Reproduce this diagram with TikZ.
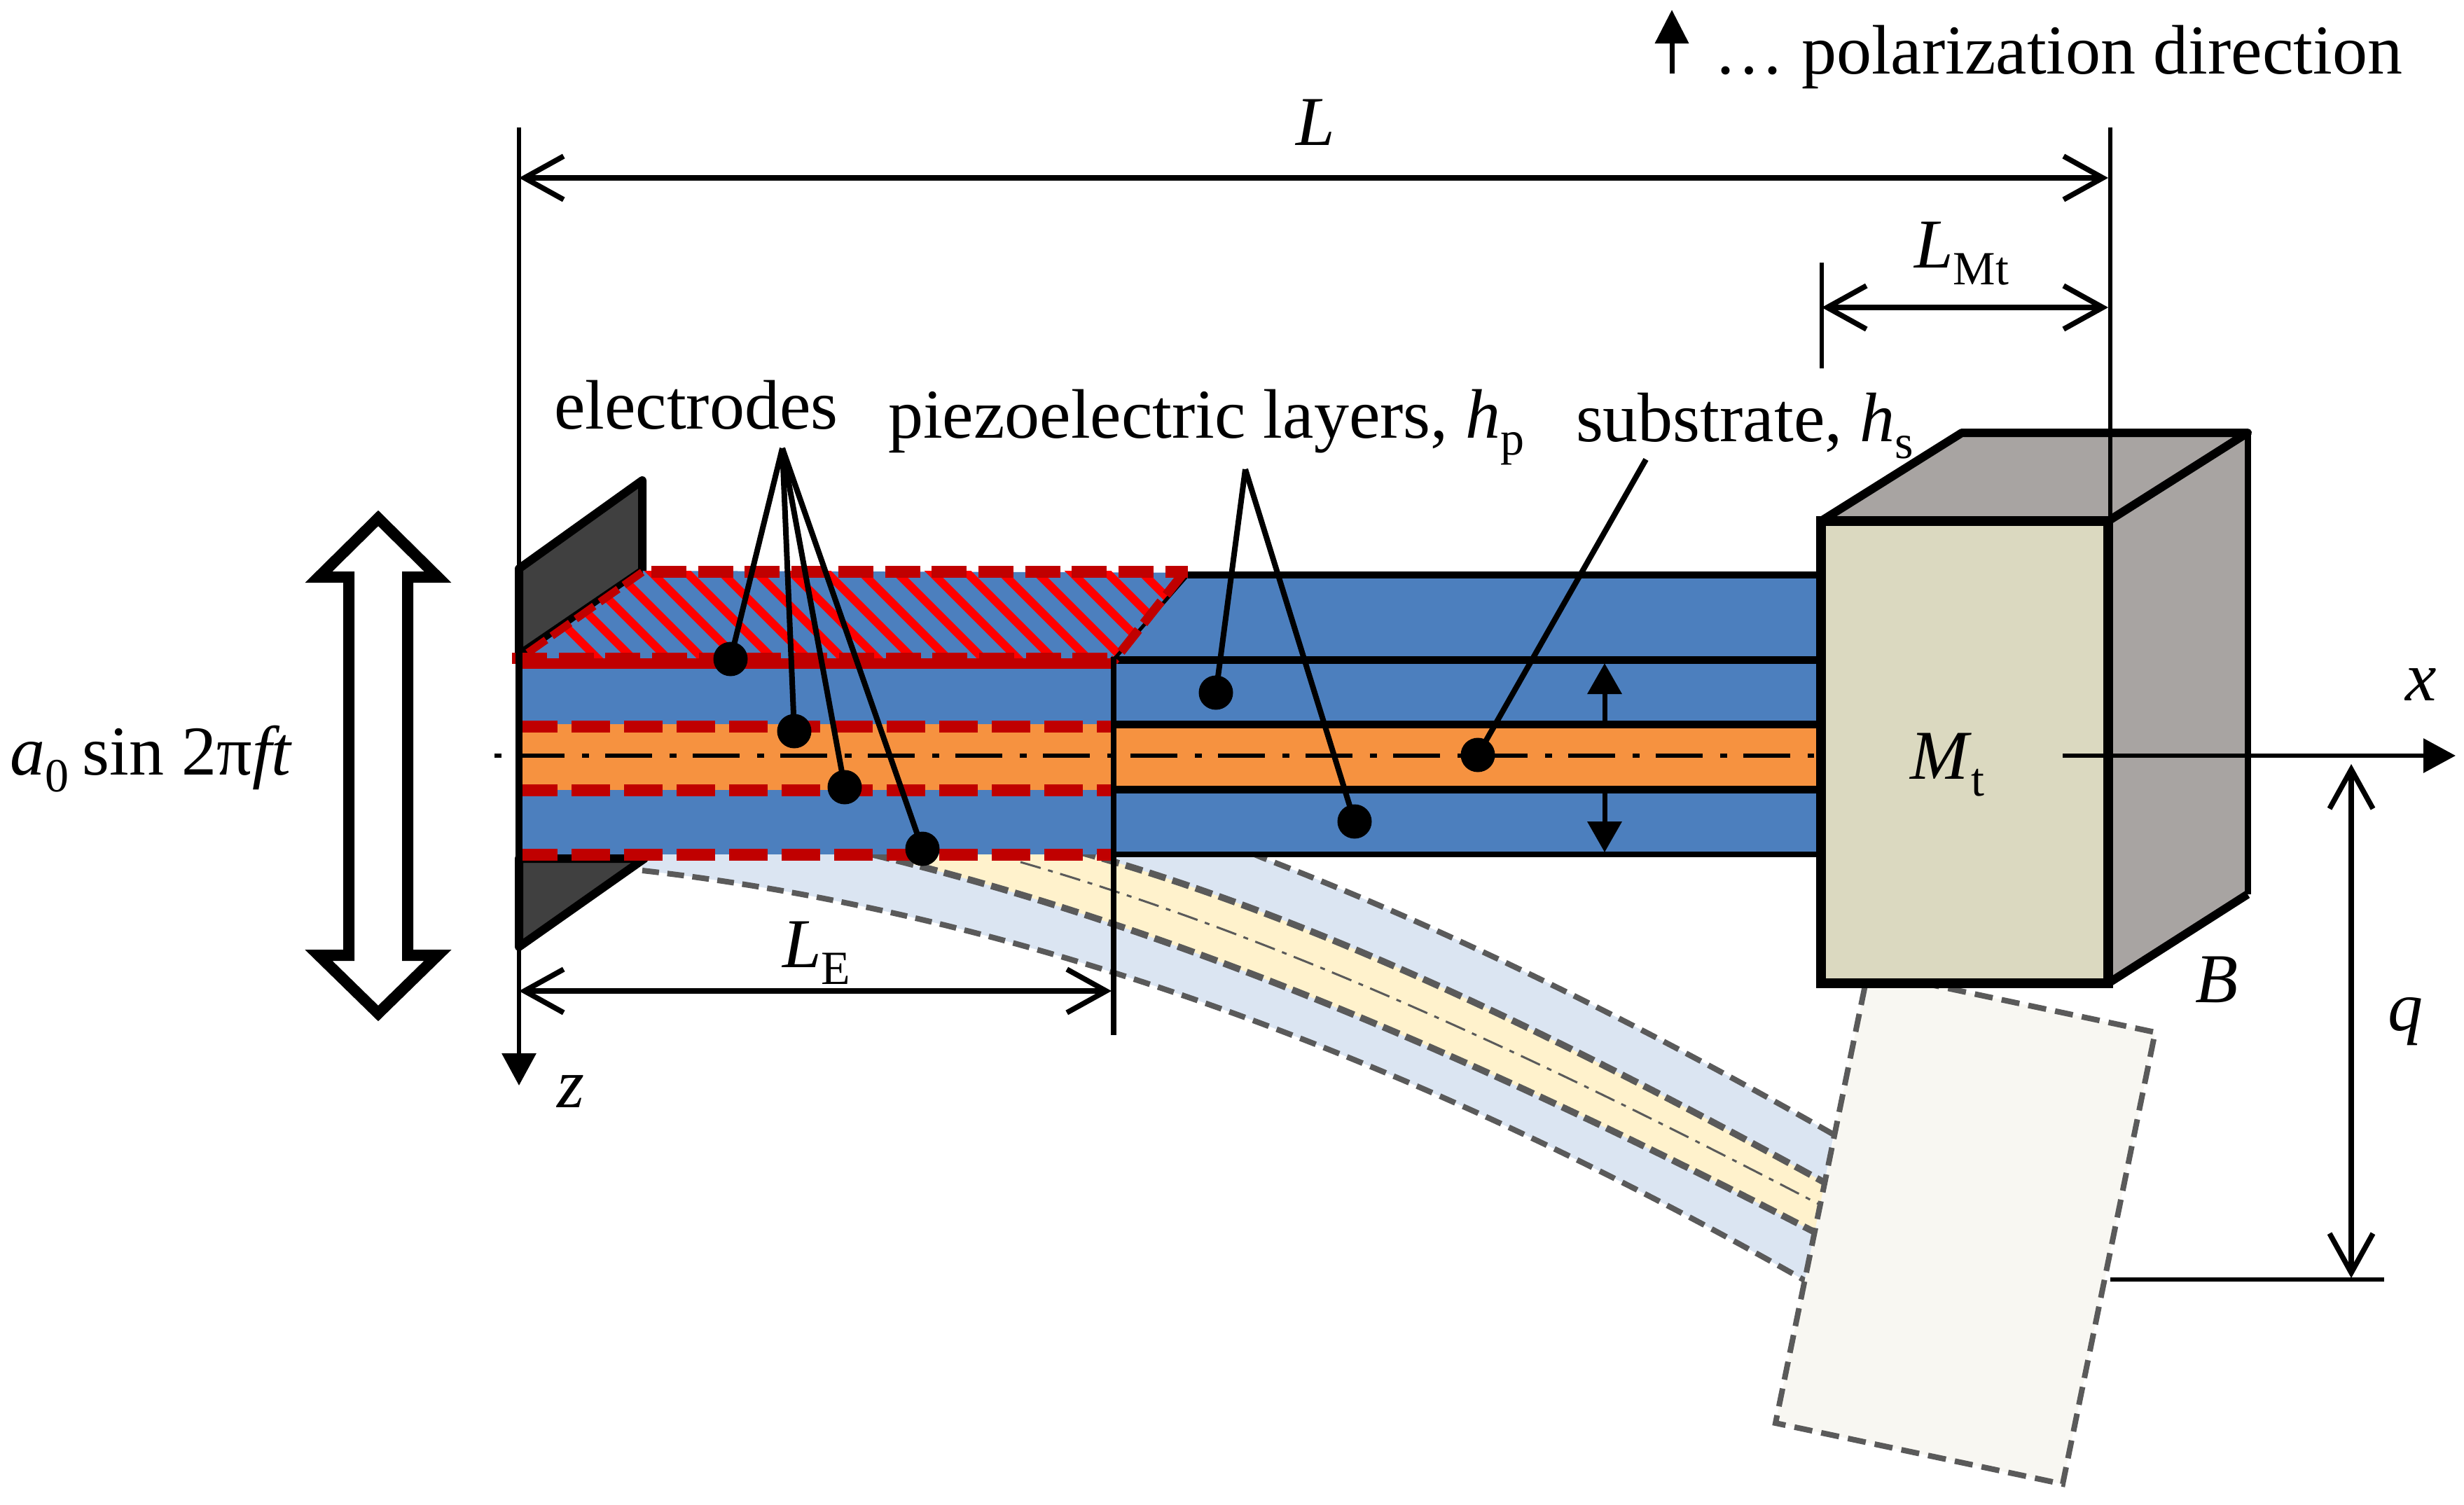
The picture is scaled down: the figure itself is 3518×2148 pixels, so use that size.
\documentclass[tikz,border=0pt]{standalone}
\usepackage{fontspec}
\setmainfont{Liberation Serif}
\usetikzlibrary{arrows.meta}
\definecolor{pblue}{HTML}{4C7FBE}
\definecolor{porange}{HTML}{F69240}
\definecolor{elred}{HTML}{C00000}
\definecolor{ghblue}{HTML}{DBE5F2}
\definecolor{ghyel}{HTML}{FFF2CC}
\definecolor{ghgrey}{HTML}{5A5A5A}
\definecolor{ghmass}{HTML}{F8F7F2}
\definecolor{massf}{HTML}{DBD9C0}
\definecolor{masss}{HTML}{A8A4A2}
\definecolor{clampc}{HTML}{404040}
\newcommand{\lowr}[1]{\raisebox{-0.24em}{\fontsize{68}{72}\selectfont #1}}
\tikzset{
  x=1pt,y=-1pt,
  txt/.style={inner sep=0pt,outer sep=0pt,anchor=base west,font=\fontsize{100}{110}\selectfont},
  dot/.style={circle,fill=black,draw=none,inner sep=0pt,minimum size=49pt},
  lead/.style={draw=black,line width=8pt},
  dim/.style={draw=black,line width=7.5pt,{Straight Barb[length=56pt,width=62pt,line width=7.5pt]}-{Straight Barb[length=56pt,width=62pt,line width=7.5pt]}},
  ext/.style={draw=black,line width=6.5pt},
  axis/.style={draw=black,line width=6.5pt,-{Triangle[length=46pt,width=48pt]}},
  polar/.style={draw=black,line width=7pt,-{Triangle[length=44pt,width=48pt]}},
  ghost/.style={draw=ghgrey,line width=8pt,dash pattern=on 24pt off 12pt},
  ghostin/.style={draw=ghgrey,line width=9.5pt,dash pattern=on 25pt off 10pt},
  eldash/.style={draw=elred,line width=17pt,dash pattern=on 55pt off 20pt},
  eltop/.style={draw=elred,line width=17pt,dash pattern=on 50pt off 16.7pt},
  hline/.style={draw=black,line width=11pt},
}
\begin{document}
\begin{tikzpicture}
\useasboundingbox (0,0) rectangle (3518,2148);
\fill[white] (0,0) rectangle (3518,2148);

% ghost beam
\fill[ghblue] (917,1200) -- (1720,1190) -- (1803,1225) .. controls (2073,1329) and (2348,1466) .. (2618,1620)
  -- (2578,1829) .. controls (2028,1516) and (1467,1305) .. (917,1243) -- cycle;
\fill[ghyel] (1246,1200) -- (1440,1200) -- (1540,1216) .. controls (1895,1315) and (2251,1494) .. (2606,1689)
  -- (2592,1760) .. controls (2143,1527) and (1695,1328) .. (1246,1220) -- cycle;
\draw[ghost] (1720,1190) -- (1803,1225) .. controls (2073,1329) and (2348,1466) .. (2618,1620);
\draw[ghostin] (1540,1216) .. controls (1895,1315) and (2251,1494) .. (2606,1689);
\draw[ghostin] (1246,1220) .. controls (1695,1328) and (2143,1527) .. (2592,1760);
\draw[ghost] (917,1243) .. controls (1467,1305) and (2028,1516) .. (2578,1829);
\draw[draw=ghgrey,line width=3pt,dash pattern=on 30pt off 11pt on 7pt off 11pt] (1457,1231) .. controls (1837,1340) and (2218,1522) .. (2598,1720);
% ghost mass
\filldraw[fill=ghmass,draw=ghgrey,line width=8pt,dash pattern=on 26pt off 13pt] (2667,1387) -- (3077,1474) -- (2945,2119) -- (2535,2032) -- cycle;

% clamp
\filldraw[fill=clampc,draw=black,line width=12pt,line join=round] (741,812) -- (917,686) -- (917,815) -- (741,935) -- cycle;
\filldraw[fill=clampc,draw=black,line width=12pt,line join=round] (741,1226) -- (920,1226) -- (741,1352) -- cycle;

% beam
\fill[pblue] (741,939) -- (917,815) -- (2600,821) -- (2600,942) -- cycle;
\fill[pblue] (741,939) rectangle (2600,1220);
\fill[porange] (741,1034) rectangle (2600,1128);

% hatching
\begin{scope}
\clip (741,945) -- (917,815) -- (1696,815) -- (1590,945) -- cycle;
\foreach \s in {-2,-1,...,17}{
  \draw[red,line width=12pt] ({913+50*\s-100},800) -- ({913+50*\s+60},960);
}
\end{scope}

% black lines of the right part
\draw[hline,line width=10pt] (1696,821) -- (2600,821);
\draw[hline] (1590,942) -- (2600,942);
\draw[hline,line width=11pt] (1590,1034) -- (2600,1034);
\draw[hline,line width=11pt] (1590,1127) -- (2600,1127);
\draw[hline,line width=8.5pt] (1590,1220) -- (2600,1220);
\draw[draw=black,line width=5pt] (1696,821) -- (1590,942);
\draw[draw=black,line width=5pt] (741,939) -- (917,815);

% electrodes
\draw[eltop] (930,816) -- (1696,816);
\draw[draw=elred,line width=15pt] (741,947) -- (1590,947);
\draw[eltop,line width=16pt] (731,940) -- (1590,940);
\draw[draw=elred,line width=13pt,dash pattern=on 40pt off 12pt] (1690,818) -- (1590,944);
\draw[draw=elred,line width=11pt,dash pattern=on 32pt off 10pt] (917,817) -- (741,941);
\draw[eldash] (741,1037) -- (1586,1037);
\draw[eldash] (741,1128) -- (1586,1128);
\draw[eldash] (741,1220) -- (1586,1220);

% centre line
\draw[draw=black,line width=6.5pt,dash pattern=on 10pt off 23pt on 67pt off 25pt] (706,1079) -- (2590,1079);

% left edge, z axis and the vertical at L_E
\draw[draw=black,line width=10pt] (741,930) -- (741,1230);
\draw[ext,line width=7.5pt] (1590,938) -- (1590,1478);
\coordinate (zTop) at (741,182);
\coordinate (zEnd) at (741,1550);
\draw[axis] (zTop) -- (zEnd);

% polarization arrows
\coordinate (pu0) at (2291,1034); \coordinate (pu1) at (2291,947);
\coordinate (pd0) at (2291,1127); \coordinate (pd1) at (2291,1217);
\draw[polar] (pu0) -- (pu1);
\draw[polar] (pd0) -- (pd1);

% mass
\filldraw[fill=masss,draw=black,line width=12pt,line join=round] (2600,744) -- (2801,618) -- (3209,618) -- (3013,744) -- cycle;
\fill[masss] (3010,744) -- (3209,618) -- (3209,1277) -- (3010,1404) -- cycle;
\draw[draw=black,line width=9pt] (3209,618) -- (3209,1277);
\draw[draw=black,line width=12pt] (3209,1277) -- (3010,1404);
\draw[draw=black,line width=12pt] (3209,618) -- (3010,744);
\filldraw[fill=massf,draw=black,line width=14.5pt,line join=miter] (2600,744) rectangle (3010,1404);

% extension lines and dimensions
\coordinate (eR0) at (3013,182); \coordinate (eR1) at (3013,740);
\draw[ext] (eR0) -- (eR1);
\coordinate (eM0) at (2601,375); \coordinate (eM1) at (2601,526);
\draw[ext] (eM0) -- (eM1);
\coordinate (dL0) at (741,254); \coordinate (dL1) at (3010,254);
\draw[dim] (dL0) -- (dL1);
\coordinate (dM0) at (2601,439); \coordinate (dM1) at (3010,439);
\draw[dim] (dM0) -- (dM1);
\coordinate (dE0) at (741,1415); \coordinate (dE1) at (1587,1415);
\draw[dim] (dE0) -- (dE1);
\coordinate (dQ0) at (3357,1091); \coordinate (dQ1) at (3357,1825);
\draw[dim] (dQ0) -- (dQ1);
\coordinate (eQ0) at (3013,1827); \coordinate (eQ1) at (3404,1827);
\draw[ext] (eQ0) -- (eQ1);
\coordinate (xA0) at (2945,1079); \coordinate (xA1) at (3506,1079);
\draw[axis] (xA0) -- (xA1);

% dots and leaders
\node[dot] (d1) at (1043,941) {};
\node[dot] (d2) at (1134,1044) {};
\node[dot] (d3) at (1206,1124) {};
\node[dot] (d4) at (1317,1212) {};
\node[dot] (d5) at (1736,989) {};
\node[dot] (d6) at (1934,1173) {};
\node[dot] (d7) at (2110,1078) {};
\coordinate (fanE) at (1117,640);
\coordinate (fanP) at (1778,670);
\coordinate (fanS) at (2350,656);
\draw[lead] (fanE) -- (d1.center);
\draw[lead] (fanE) -- (d2.center);
\draw[lead] (fanE) -- (d3.center);
\draw[lead] (fanE) -- (d4.center);
\draw[lead] (fanP) -- (d5.center);
\draw[lead] (fanP) -- (d6.center);
\draw[lead] (fanS) -- (d7.center);

% base excitation double arrow
\draw[draw=black,line width=16pt,line join=miter,miter limit=10,fill=white]
  (498,824) -- (455,824) -- (540,740) -- (625,824) -- (582,824) -- (582,1364) -- (625,1364) -- (540,1447) -- (455,1364) -- (498,1364) -- cycle;

% polarization legend
\coordinate (legA) at (2387,105); \coordinate (legB) at (2387,14);
\draw[draw=black,line width=7pt,-{Triangle[length=48pt,width=47pt]}] (legA) -- (legB);

% texts
\node[txt] (tPol) at (2447,105) {…\ polarization direction};
\node[txt] (tL) at (1850,207) {\textit{L}};
\node[txt] (tLM) at (2733,382) {\textit{L}\lowr{Mt}};
\node[txt] (tLE) at (1117,1381) {\textit{L}\lowr{E}};
\node[txt] (tEl) at (791,612) {electrodes};
\node[txt] (tPz) at (1268,625) {piezoelectric layers, \textit{h}\lowr{p}};
\node[txt] (tSb) at (2250,630) {substrate, \textit{h}\lowr{s}};
\node[txt] (tA) at (14,1106) {\textit{a}\lowr{0}\hspace{0.2em}sin 2π\textit{ft}};
\node[txt] (tMt) at (2727,1112) {\textit{M}\lowr{t}};
\node[txt] (tx) at (3434,1000) {\textit{x}};
\node[txt] (tz) at (795,1581) {\textit{z}};
\node[txt] (tB) at (3134,1431) {\textit{B}};
\node[txt] (tq) at (3409,1471) {\textit{q}};
\end{tikzpicture}
\end{document}
